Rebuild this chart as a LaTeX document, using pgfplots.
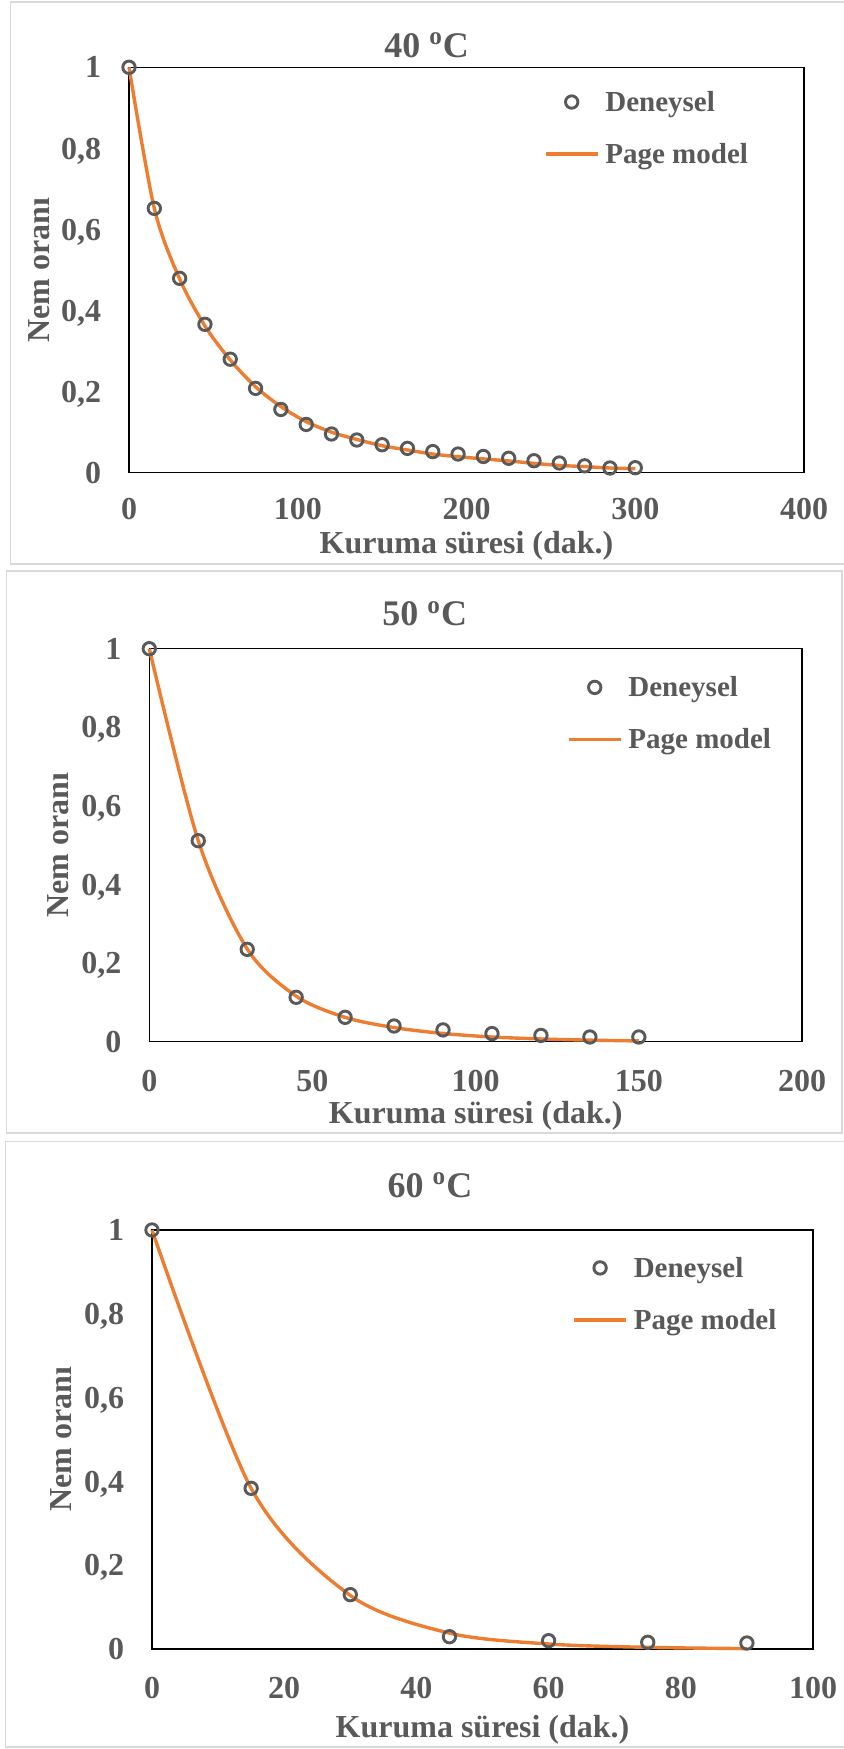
\documentclass[border=0pt]{standalone}
\usepackage{fontspec}
\setmainfont{Liberation Serif}
\usepackage{pgfplots}
\pgfplotsset{compat=1.18}
\definecolor{textgray}{HTML}{595959}
\definecolor{markgray}{HTML}{595959}
\definecolor{orange1}{HTML}{ED7D31}
\definecolor{framegray}{HTML}{D9D9D9}
\pgfplotsset{
  myaxis/.style={
    scale only axis, anchor=south west,
    axis line style={black, line width=0.7pt},
    major tick length=0pt, tick style={draw=none},
    xmin=0, ymin=0, ymax=1,
    ytick={0,0.2,0.4,0.6,0.8,1},
    yticklabels={0,{0,2},{0,4},{0,6},{0,8},1},
    tick label style={font=\fontsize{16}{18}\selectfont\bfseries, text=textgray},
    yticklabel style={anchor=east, inner sep=0pt, xshift=-13.75pt, text depth=0pt},
    xticklabel style={anchor=north, inner sep=0pt},
    clip=false,
    legend cell align=left,
    legend style={draw=none, fill=none, anchor=north west, inner sep=0pt, outer sep=0pt,
      row sep=16.4pt, column sep=3pt,
      font=\fontsize{14.5}{16}\selectfont\bfseries, text=textgray,
      nodes={inner sep=0pt, text height=9.6pt, text depth=0pt}},
  },
  expstyle/.style={only marks, mark=o, mark size=3.1pt, color=markgray,
    mark options={line width=1.45pt, draw=markgray},
    legend image code/.code={\path (0pt,0pt) (26pt,0pt); \draw[##1] plot coordinates {(13pt,0pt)};}},
  modstyle/.style={no marks, smooth, color=orange1, line width=1.7pt,
    legend image code/.code={\draw[##1] (0pt,0pt) -- (26pt,0pt);}},
}
\begin{document}
\begin{tikzpicture}
\path[use as bounding box] (0pt,0pt) rectangle (421.5pt,-874.5pt);
% outer frames
\draw[framegray, line width=0.75pt] (5.35pt,-1pt) rectangle (423pt,-282pt);
\draw[framegray, line width=0.75pt] (3.25pt,-285.5pt) rectangle (421pt,-566.5pt);
\draw[framegray, line width=0.75pt] (2.7pt,-570.75pt) rectangle (423pt,-873.5pt);

% ---------- Panel 1 ----------
\begin{axis}[myaxis, at={(64.5pt,-236.35pt)}, width=337.5pt, height=202.7pt,
  xmax=400, xtick={0,100,200,300,400}, xticklabels={0,100,200,300,400},
  xticklabel style={yshift=-12.5pt},
  legend style={at={(0.6148,0.938)}}]
\addplot[expstyle] coordinates {(0,1)(15,0.652)(30,0.4795)(45,0.366)(60,0.280)(75,0.208)(90,0.156)(105,0.119)(120,0.0955)(135,0.0807)(150,0.069)(165,0.060)(180,0.052)(195,0.046)(210,0.040)(225,0.0355)(240,0.0296)(255,0.024)(270,0.017)(285,0.0116)(300,0.0123)};
\addlegendentry{Deneysel}
\addplot[modstyle] coordinates {(0,1)(15,0.652)(30,0.478)(45,0.362)(60,0.278)(75,0.212)(90,0.163)(105,0.126)(120,0.100)(135,0.082)(150,0.0666)(165,0.056)(180,0.046)(195,0.0395)(210,0.034)(225,0.029)(240,0.023)(255,0.018)(270,0.015)(285,0.0116)(300,0.010)};
\addlegendentry{Page model}
\end{axis}

% ---------- Panel 2 ----------
\begin{axis}[myaxis, at={(74.65pt,-520.85pt)}, width=326.35pt, height=196.5pt,
  xmax=200, xtick={0,50,100,150,200}, xticklabels={0,50,100,150,200},
  xticklabel style={yshift=-14pt},
  legend style={at={(0.64,0.926)}}]
\addplot[expstyle] coordinates {(0,1)(15,0.5115)(30,0.235)(45,0.113)(60,0.062)(75,0.040)(90,0.030)(105,0.0207)(120,0.016)(135,0.012)(150,0.012)};
\addlegendentry{Deneysel}
\addplot[modstyle] coordinates {(0,1)(15,0.5115)(30,0.236)(45,0.116)(60,0.062)(75,0.036)(90,0.021)(105,0.012)(120,0.007)(135,0.004)(150,0.002)};
\addlegendentry{Page model}
\end{axis}

% ---------- Panel 3 ----------
\begin{axis}[myaxis, at={(76pt,-824.5pt)}, width=330.5pt, height=209.5pt,
  xmax=100, xtick={0,20,40,60,80,100}, xticklabels={0,20,40,60,80,100},
  xticklabel style={yshift=-14pt},
  legend style={at={(0.636,0.9325)}}]
\addplot[expstyle] coordinates {(0,1)(15,0.3835)(30,0.1297)(45,0.0294)(60,0.0199)(75,0.016)(90,0.0143)};
\addlegendentry{Deneysel}
\addplot[modstyle] coordinates {(0,1)(15,0.3835)(30,0.128)(45,0.038)(60,0.012)(75,0.004)(90,0.001)};
\addlegendentry{Page model}
\end{axis}

% titles
\begin{scope}[every node/.style={text=textgray, inner sep=0pt}]
\node[anchor=base, font=\fontsize{18}{20}\selectfont\bfseries] at (213.3pt,-28.75pt) {40 \textsuperscript{o}C};
\node[anchor=base, font=\fontsize{18}{20}\selectfont\bfseries] at (212.35pt,-312.95pt) {50 \textsuperscript{o}C};
\node[anchor=base, font=\fontsize{18}{20}\selectfont\bfseries] at (215pt,-598.55pt) {60 \textsuperscript{o}C};
% x labels
\node[anchor=base, font=\fontsize{16}{18}\selectfont\bfseries] at (233.25pt,-276.6pt) {Kuruma süresi (dak.)};
\node[anchor=base, font=\fontsize{16}{18}\selectfont\bfseries] at (237.85pt,-561.5pt) {Kuruma süresi (dak.)};
\node[anchor=base, font=\fontsize{16}{18}\selectfont\bfseries] at (241.25pt,-868.5pt) {Kuruma süresi (dak.)};
% y labels
\node[anchor=base, rotate=90, font=\fontsize{16}{18}\selectfont\bfseries] at (24.75pt,-135pt) {Nem oranı};
\node[anchor=base, rotate=90, font=\fontsize{16}{18}\selectfont\bfseries] at (34.4pt,-422.6pt) {Nem oranı};
\node[anchor=base, rotate=90, font=\fontsize{16}{18}\selectfont\bfseries] at (35.5pt,-719.75pt) {Nem oranı};
\end{scope}
\end{tikzpicture}
\end{document}
